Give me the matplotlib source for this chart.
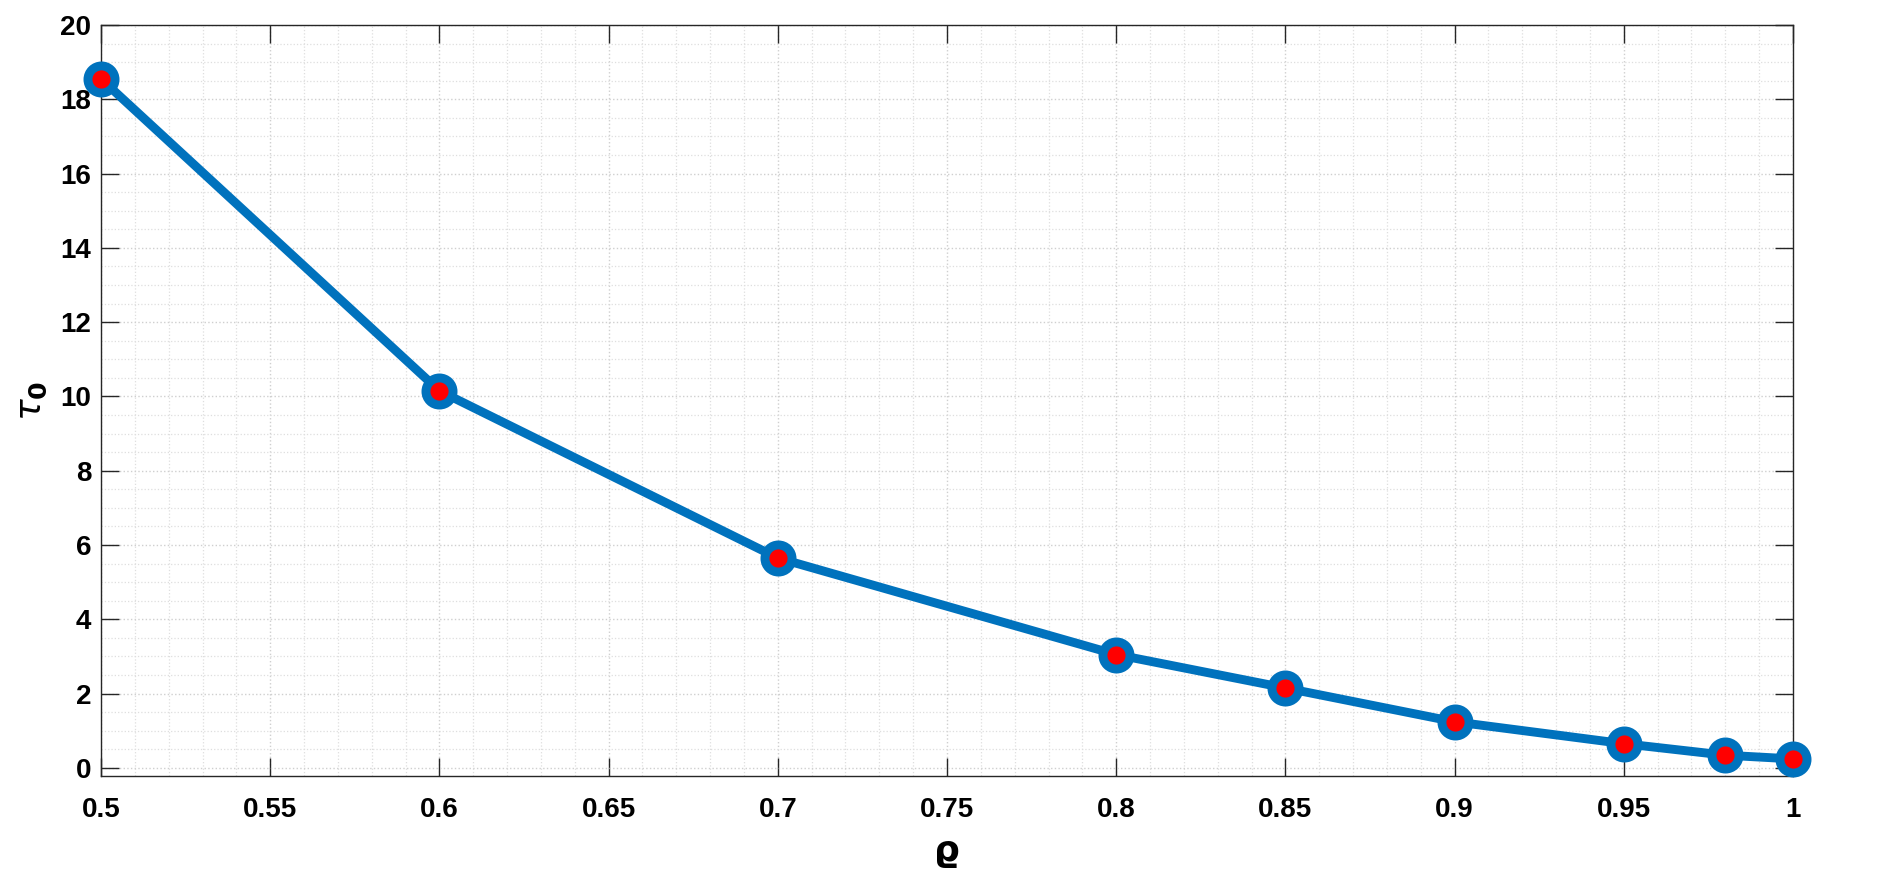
import numpy as np
import matplotlib
matplotlib.use('Agg')
import matplotlib.pyplot as plt
from matplotlib.ticker import MultipleLocator

# data
rho = [0.5, 0.6, 0.7, 0.8, 0.85, 0.9, 0.95, 0.98, 1.0]
tau0 = [18.55, 10.15, 5.65, 3.05, 2.15, 1.24, 0.65, 0.34, 0.24]
xticks = [0.5, 0.55, 0.6, 0.65, 0.7, 0.75, 0.8, 0.85, 0.9, 0.95, 1.0]
xtick_labels = ['0.5', '0.55', '0.6', '0.65', '0.7', '0.75', '0.8', '0.85', '0.9', '0.95', '1']
yticks = [0, 2, 4, 6, 8, 10, 12, 14, 16, 18, 20]

plt.rcParams['font.family'] = ['Liberation Sans', 'DejaVu Sans']
plt.rcParams['mathtext.fontset'] = 'dejavusans'

fig = plt.figure(figsize=(18.84, 8.8), dpi=100)
ax = fig.add_axes([101/1884, 1 - 776/880, (1793-101)/1884, (776-25)/880])

ax.plot(rho, tau0, '-o', color='#0072BD', linewidth=6.4,
        markersize=19.5, markeredgewidth=6.4,
        markerfacecolor='red', markeredgecolor='#0072BD', zorder=3, clip_on=False)

ax.set_xlim(0.5, 1.0)
ax.set_ylim(-0.22, 20)
ax.set_xticks(xticks)
ax.set_xticklabels(xtick_labels)
ax.set_yticks(yticks)
ax.xaxis.set_minor_locator(MultipleLocator(0.01))
ax.yaxis.set_minor_locator(MultipleLocator(0.5))

ax.grid(which='major', color='#cfcfcf', linestyle=':', linewidth=1.0)
ax.grid(which='minor', color='#dedede', linestyle=':', linewidth=0.9)
ax.set_axisbelow(True)

ax.tick_params(which='major', direction='in', length=13, width=1.0,
               top=True, right=True, labelsize=20, color='#262626')
ax.tick_params(axis='x', which='major', pad=15)
ax.tick_params(axis='y', which='major', pad=7)
ax.tick_params(which='minor', length=0)
for lab in ax.get_xticklabels() + ax.get_yticklabels():
    lab.set_fontweight('bold')

for s in ax.spines.values():
    s.set_linewidth(1.0)
    s.set_color('#262626')

ax.set_xlabel('ϱ', fontsize=26, fontweight='bold',
              family=['DejaVu Sans'], labelpad=8)
ax.set_ylabel(r'$\tau_\mathbf{0}$', fontsize=26, labelpad=8)

fig.savefig('out.png', dpi=100)
